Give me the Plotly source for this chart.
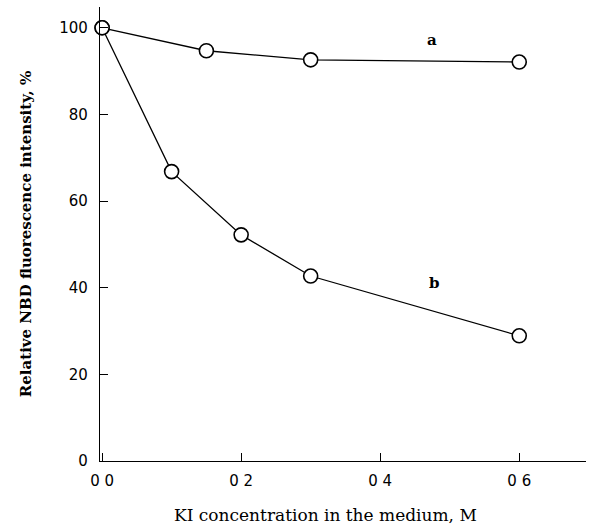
import plotly.graph_objects as go

# Data
x_a = [0.0, 0.15, 0.3, 0.6]
y_a = [100, 94.7, 92.6, 92.1]
x_b = [0.0, 0.1, 0.2, 0.3, 0.6]
y_b = [100, 66.8, 52.2, 42.7, 28.9]

x_ticks = [0.0, 0.2, 0.4, 0.6]
x_tick_labels = ["0 0", "0 2", "0 4", "0 6"]
y_ticks = [0, 20, 40, 60, 80, 100]
y_tick_labels = ["0", "20", "40", "60", "80", "100"]

series_labels = ["a", "b"]
label_pos = [(0.475, 97.2), (0.478, 41.1)]

fig = go.Figure()
for xs, ys, name in [(x_a, y_a, "a"), (x_b, y_b, "b")]:
    fig.add_trace(go.Scatter(
        x=xs, y=ys, mode="lines+markers", name=name,
        line=dict(color="black", width=1.3),
        marker=dict(symbol="circle", size=14, color="white",
                    line=dict(color="black", width=1.6)),
        showlegend=False, cliponaxis=False,
    ))

for lab, (lx, ly) in zip(series_labels, label_pos):
    fig.add_annotation(x=lx, y=ly, text="<b>" + lab + "</b>", showarrow=False,
                       font=dict(family="DejaVu Serif", size=15, color="black"))

fig.add_annotation(x=0.463, xref="paper", y=-0.118, yref="paper",
                   yanchor="middle", xanchor="center",
                   text="KI concentration in the medium, M", showarrow=False,
                   font=dict(family="DejaVu Serif", size=17, color="black"))

fig.update_layout(
    width=589, height=529,
    margin=dict(l=100, r=3, t=7, b=68),
    paper_bgcolor="white", plot_bgcolor="white",
    font=dict(family="DejaVu Sans", size=15, color="black"),
    xaxis=dict(
        range=[-0.003, 0.696], tickvals=x_ticks, ticktext=x_tick_labels,
        ticks="inside", ticklen=8, tickcolor="black", tickwidth=1.2,
        showline=True, linecolor="black", linewidth=1.2,
        showgrid=False, zeroline=False, mirror=False,
        tickfont=dict(family="DejaVu Sans", size=15),
        ticklabelstandoff=6,
    ),
    yaxis=dict(
        range=[0, 104.8], tickvals=y_ticks, ticktext=y_tick_labels,
        ticks="inside", ticklen=8, tickcolor="black", tickwidth=1.2,
        showline=True, linecolor="black", linewidth=1.2,
        showgrid=False, zeroline=False, mirror=False,
        tickfont=dict(family="DejaVu Sans", size=15),
        ticklabelstandoff=8,
        title=dict(text="<b>Relative NBD fluorescence intensity, %</b>",
                   font=dict(family="DejaVu Serif", size=15), standoff=24),
    ),
)

fig.write_html("out.html", config={"displayModeBar": False},
               post_script="document.body.style.margin='0';document.body.style.padding='0';")
